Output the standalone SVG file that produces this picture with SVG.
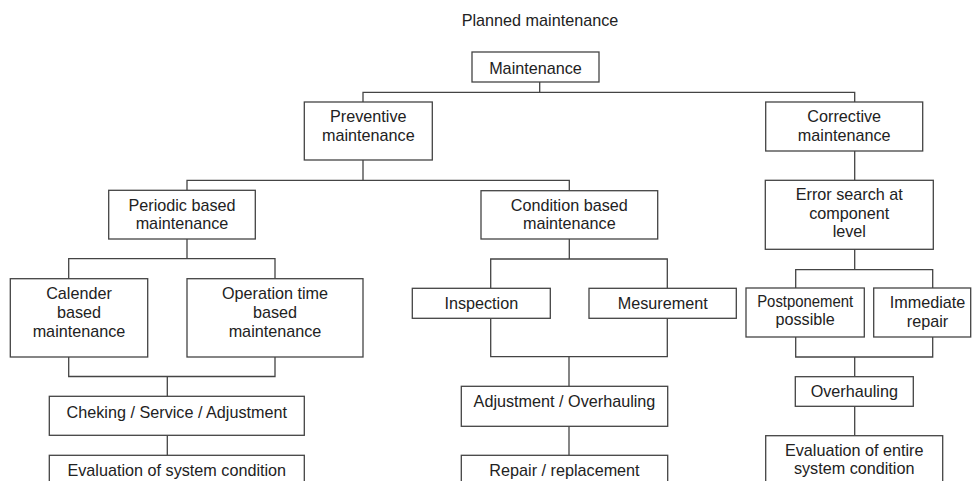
<svg xmlns="http://www.w3.org/2000/svg" width="973" height="481" viewBox="0 0 973 481">
<style>
.b{fill:#fff;stroke:#444;stroke-width:1.3}
.c{fill:none;stroke:#444;stroke-width:1.3}
text{font-family:"Liberation Sans",Arial,sans-serif;font-size:16.2px;fill:#222;text-anchor:middle}
</style>
<rect width="973" height="481" fill="#fff"/>
<text x="540" y="25.5">Planned maintenance</text>
<g id="connectors">
<path class="c" d="M539.7,82V92.3M363,102V92.3H854.7V102"/>
<path class="c" d="M363,160V180.3M187,190.3V180.3H569.3V190.7"/>
<path class="c" d="M854.7,151V180.3"/>
<path class="c" d="M187,239V258.7M68.7,278.7V258.7H275V278.7"/>
<path class="c" d="M68.7,357V376.5H275V357M167.3,376.5V396.3"/>
<path class="c" d="M167.3,435.3V455.3"/>
<path class="c" d="M569.3,239V259M490.7,288.3V259H667.3V288.3"/>
<path class="c" d="M490.7,318.3V356.7H667.3V318.3M569,356.7V386.3"/>
<path class="c" d="M569,426.3V455.3"/>
<path class="c" d="M854.7,249.3V269.7M795.7,288V269.7H932.7V288"/>
<path class="c" d="M795.7,337V357H932.7V337M854.7,357V376.7"/>
<path class="c" d="M854.7,406.3V435.7"/>
</g>
<g id="maintenance"><rect class="b" x="472" y="52" width="127" height="30"/><text x="535.5" y="73.5">Maintenance</text></g>
<g id="preventive"><rect class="b" x="304.3" y="102" width="128" height="58"/><text x="368.3" y="122.3">Preventive</text><text x="368.3" y="141">maintenance</text></g>
<g id="corrective"><rect class="b" x="765.7" y="102" width="157" height="49"/><text x="844.2" y="122.3">Corrective</text><text x="844.2" y="141">maintenance</text></g>
<g id="periodic"><rect class="b" x="108.7" y="190.3" width="146.6" height="48.7"/><text x="182" y="210.7">Periodic based</text><text x="182" y="229.3">maintenance</text></g>
<g id="condition"><rect class="b" x="481" y="190.7" width="176.7" height="48.3"/><text x="569.3" y="210.7">Condition based</text><text x="569.3" y="229.3">maintenance</text></g>
<g id="error"><rect class="b" x="765.3" y="180.3" width="168" height="69"/><text x="849.3" y="200">Error search at</text><text x="849.3" y="218.7">component</text><text x="849.3" y="237.3">level</text></g>
<g id="calender"><rect class="b" x="10.3" y="278.7" width="137.4" height="78.3"/><text x="79" y="299">Calender</text><text x="79" y="317.7">based</text><text x="79" y="336.7">maintenance</text></g>
<g id="operation"><rect class="b" x="187" y="278.7" width="176" height="78.3"/><text x="275" y="299">Operation time</text><text x="275" y="317.7">based</text><text x="275" y="336.7">maintenance</text></g>
<g id="inspection"><rect class="b" x="412.3" y="288.3" width="138" height="30"/><text x="481.3" y="309">Inspection</text></g>
<g id="mesurement"><rect class="b" x="589" y="288.3" width="147.3" height="30"/><text x="662.7" y="309">Mesurement</text></g>
<g id="postponement"><rect class="b" x="746" y="288" width="118.3" height="49"/><text x="805.2" y="306.7" textLength="96" lengthAdjust="spacingAndGlyphs">Postponement</text><text x="805.2" y="325">possible</text></g>
<g id="immediate"><rect class="b" x="873.7" y="288" width="97" height="49"/><text x="927.5" y="308.3">Immediate</text><text x="927.5" y="326.7">repair</text></g>
<g id="checking"><rect class="b" x="49.3" y="396.3" width="255" height="39"/><text x="176.8" y="417.7">Cheking / Service / Adjustment</text></g>
<g id="evaluation-system"><rect class="b" x="49.3" y="455.3" width="255" height="40"/><text x="176.8" y="475.7">Evaluation of system condition</text></g>
<g id="adjustment"><rect class="b" x="461.3" y="386.3" width="206.4" height="40"/><text x="564.5" y="406.7">Adjustment / Overhauling</text></g>
<g id="repair"><rect class="b" x="461.3" y="455.3" width="206.4" height="40"/><text x="564.5" y="475.7">Repair / replacement</text></g>
<g id="overhauling"><rect class="b" x="795.3" y="376.7" width="118" height="29.6"/><text x="854.3" y="396.7">Overhauling</text></g>
<g id="evaluation-entire"><rect class="b" x="765.7" y="435.7" width="177" height="55"/><text x="854.2" y="455.7">Evaluation of entire</text><text x="854.2" y="474">system condition</text></g>
</svg>
